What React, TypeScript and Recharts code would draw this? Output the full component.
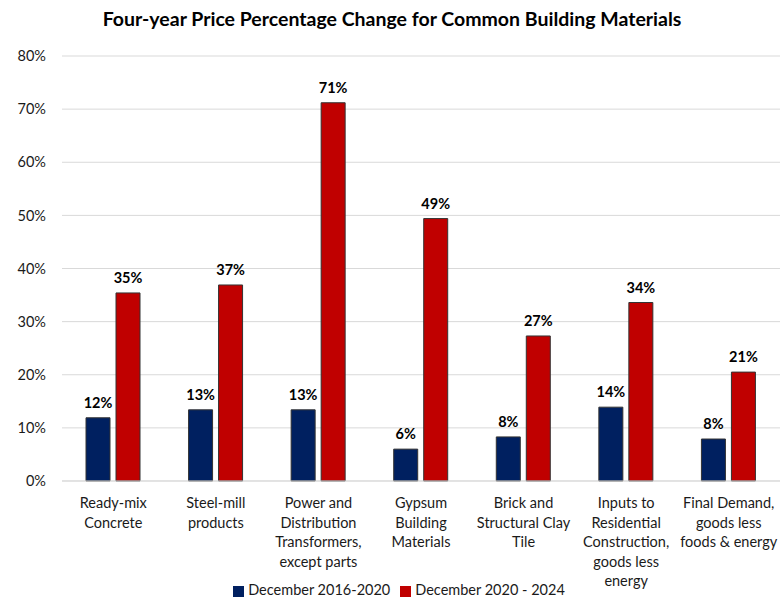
import React from "react";
import { Bar, BarChart, CartesianGrid, LabelList, Legend, XAxis, YAxis } from "recharts";

const FONT = "Lato, 'Open Sans', sans-serif";
const BLUE = "#002060";
const RED = "#C00000";

const categories = [
  "Ready-mix Concrete",
  "Steel-mill products",
  "Power and Distribution Transformers, except parts",
  "Gypsum Building Materials",
  "Brick and Structural Clay Tile",
  "Inputs to Residential Construction, goods less energy",
  "Final Demand, goods less foods & energy",
];

// wrapped label lines, as in the picture
const labelLines: Record<string, string[]> = {
  "Ready-mix Concrete": ["Ready-mix", "Concrete"],
  "Steel-mill products": ["Steel-mill", "products"],
  "Power and Distribution Transformers, except parts": ["Power and", "Distribution", "Transformers,", "except parts"],
  "Gypsum Building Materials": ["Gypsum", "Building", "Materials"],
  "Brick and Structural Clay Tile": ["Brick and", "Structural Clay", "Tile"],
  "Inputs to Residential Construction, goods less energy": ["Inputs to", "Residential", "Construction,", "goods less", "energy"],
  "Final Demand, goods less foods & energy": ["Final Demand,", "goods less", "foods & energy"],
};

const change2016_2020 = [11.9, 13.4, 13.4, 6.0, 8.3, 13.9, 7.9];
const change2020_2024 = [35.4, 36.9, 71.2, 49.4, 27.3, 33.6, 20.5];
const yTicks = [0, 10, 20, 30, 40, 50, 60, 70, 80];

const rows = categories.map((name, i) => ({
  name,
  a: change2016_2020[i],
  b: change2020_2024[i],
}));

function CategoryTick(props: any) {
  const { x, y, payload } = props;
  const lines = labelLines[payload.value] ?? [payload.value];
  return (
    <g transform={`translate(${x},${y})`}>
      {lines.map((l, i) => (
        <text
          key={i}
          x={0}
          y={19 + i * 19.5}
          textAnchor="middle"
          fontSize={14.5}
          fontFamily={FONT}
          fill="#1a1a1a"
        >
          {l}
        </text>
      ))}
    </g>
  );
}

const labelStyle = { fontSize: 14.5, fontWeight: 700, fontFamily: FONT, fill: "#000" };

export default function App() {
  return (
    <div style={{ position: "absolute", left: 0, top: 0, width: 784, height: 600, background: "#fff" }}>
      <div
        style={{
          position: "absolute",
          top: 7,
          left: 0,
          width: 784,
          textAlign: "center",
          fontFamily: FONT,
          fontWeight: 700,
          fontSize: 19.5,
          color: "#000",
        }}
      >
        Four-year Price Percentage Change for Common Building Materials
      </div>
      <BarChart
        width={784}
        height={600}
        data={rows}
        margin={{ top: 56, right: 4, left: 0, bottom: 0 }}
        barSize={24}
        barGap={6}
      >
        <CartesianGrid vertical={false} stroke="#d9d9d9" />
        <XAxis
          dataKey="name"
          interval={0}
          tick={<CategoryTick />}
          tickLine={false}
          axisLine={{ stroke: "#d9d9d9" }}
          height={95}
        />
        <YAxis
          domain={[0, 80]}
          ticks={yTicks}
          width={62}
          tickLine={false}
          axisLine={false}
          tickFormatter={(v) => `${v}%`}
          tick={{ fontSize: 14.5, fontFamily: FONT, fill: "#1a1a1a", dx: -8 }}
        />
        <Legend
          verticalAlign="bottom"
          iconType="square"
          iconSize={11}
          height={24}
          wrapperStyle={{ top: 581, bottom: "auto", left: 14 }}
          formatter={(v) => <span style={{ color: "#1a1a1a", fontFamily: FONT, fontSize: 14.5 }}>{v}</span>}
        />
        <Bar dataKey="a" name="December 2016-2020" fill={BLUE} stroke="#333" strokeWidth={1} isAnimationActive={false}>
          <LabelList
            dataKey="a"
            position="top"
            offset={10}
            formatter={(v: any) => `${Math.round(v)}%`}
            style={labelStyle}
          />
        </Bar>
        <Bar dataKey="b" name="December 2020 - 2024" fill={RED} stroke="#333" strokeWidth={1} isAnimationActive={false}>
          <LabelList
            dataKey="b"
            position="top"
            offset={10}
            formatter={(v: any) => `${Math.round(v)}%`}
            style={labelStyle}
          />
        </Bar>
      </BarChart>
    </div>
  );
}
